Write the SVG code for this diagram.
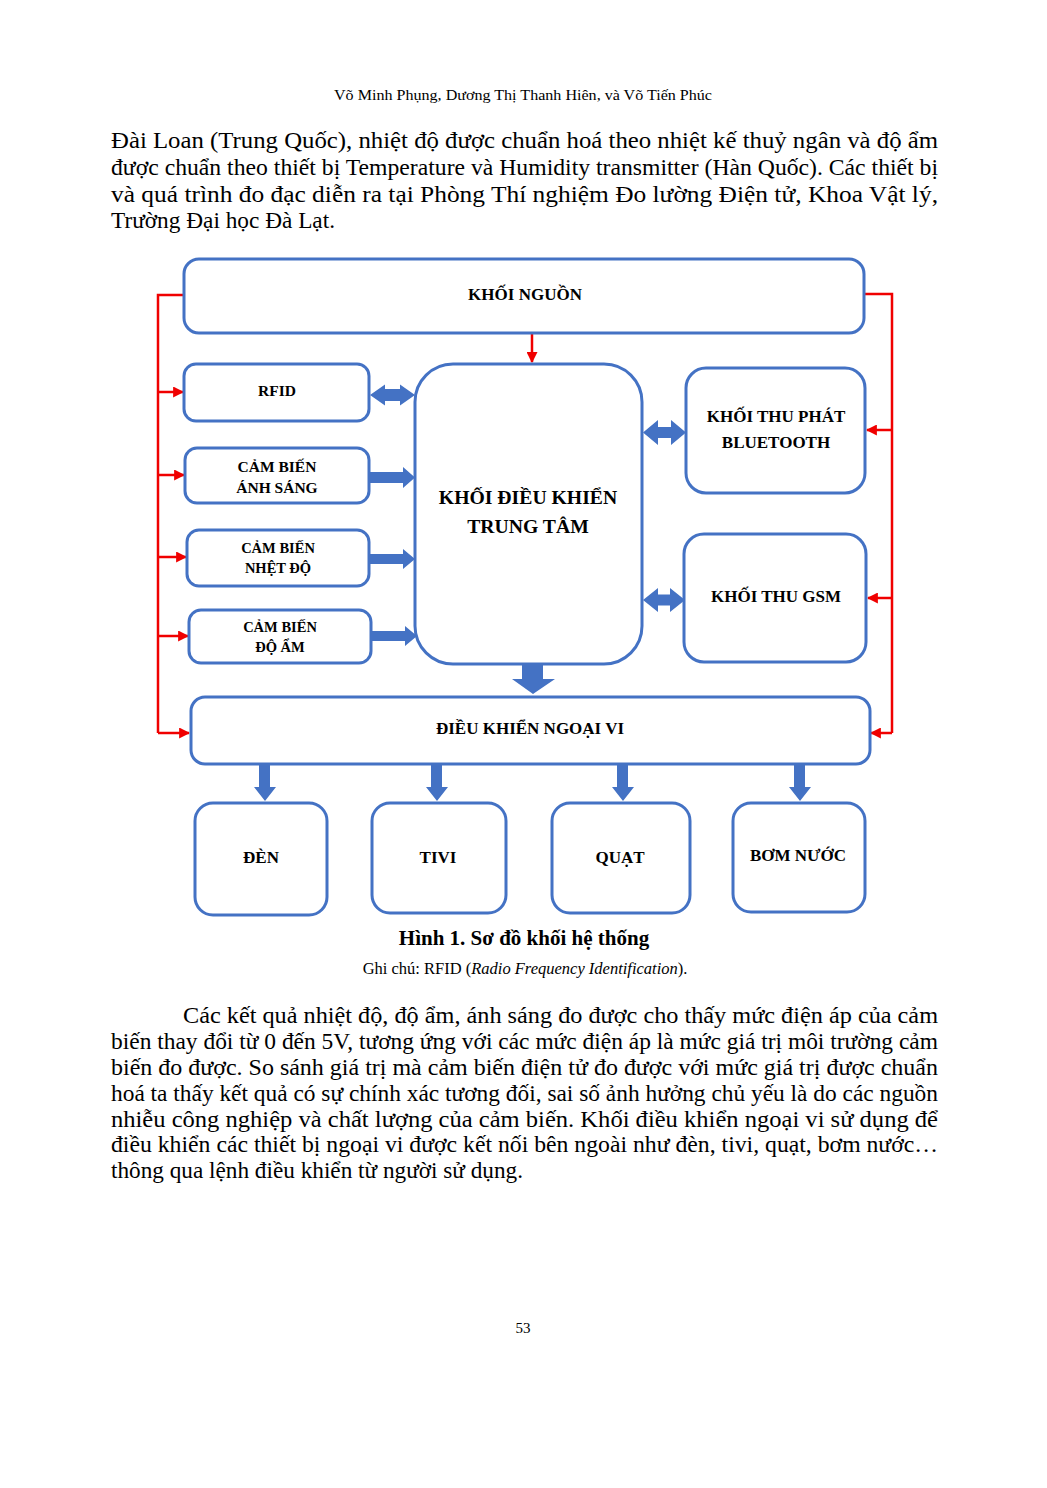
<svg xmlns="http://www.w3.org/2000/svg" width="1047" height="1488" viewBox="0 0 1047 1488">
<defs>
<style>
.box{fill:#fff;stroke:#4472C4;stroke-width:3}
.lbl{font-family:"Liberation Serif","Times New Roman",serif;font-weight:bold;text-anchor:middle;fill:#000}
.body{font-family:"Liberation Serif","Times New Roman",serif;font-size:23px;fill:#000}
.red{fill:none;stroke:#F00000;stroke-width:2.5}
.blk{fill:#4472C4}
</style>
<marker id="ra" viewBox="0 0 10 10" refX="9" refY="5" markerWidth="4.4" markerHeight="4.4" orient="auto" markerUnits="strokeWidth">
<path d="M0,0 L10,5 L0,10 z" fill="#F00000"/>
</marker>
</defs>
<rect width="1047" height="1488" fill="#fff"/>

<text x="523" y="100" text-anchor="middle" font-family="Liberation Serif, serif" font-size="15" textLength="378" lengthAdjust="spacingAndGlyphs">Võ Minh Phụng, Dương Thị Thanh Hiên, và Võ Tiến Phúc</text>

<g class="body">
<text x="111" y="148" textLength="827" lengthAdjust="spacingAndGlyphs">Đài Loan (Trung Quốc), nhiệt độ được chuẩn hoá theo nhiệt kế thuỷ ngân và độ ẩm</text>
<text x="111" y="175" textLength="827" lengthAdjust="spacingAndGlyphs">được chuẩn theo thiết bị Temperature và Humidity transmitter (Hàn Quốc). Các thiết bị</text>
<text x="111" y="202" textLength="827" lengthAdjust="spacingAndGlyphs">và quá trình đo đạc diễn ra tại Phòng Thí nghiệm Đo lường Điện tử, Khoa Vật lý,</text>
<text x="111" y="228" textLength="224" lengthAdjust="spacingAndGlyphs">Trường Đại học Đà Lạt.</text>
</g>

<g id="connectors">
<polyline class="red" points="184,295 158,295 158,733"/>
<line class="red" x1="158" y1="392" x2="183" y2="392" marker-end="url(#ra)"/>
<line class="red" x1="158" y1="475" x2="184" y2="475" marker-end="url(#ra)"/>
<line class="red" x1="158" y1="557" x2="186" y2="557" marker-end="url(#ra)"/>
<line class="red" x1="158" y1="636" x2="188" y2="636" marker-end="url(#ra)"/>
<line class="red" x1="158" y1="733" x2="189" y2="733" marker-end="url(#ra)"/>
<polyline class="red" points="865,294 892,294 892,733"/>
<line class="red" x1="892" y1="430" x2="867" y2="430" marker-end="url(#ra)"/>
<line class="red" x1="892" y1="598" x2="868" y2="598" marker-end="url(#ra)"/>
<line class="red" x1="892" y1="733" x2="871" y2="733" marker-end="url(#ra)"/>
<line class="red" x1="532" y1="334" x2="532" y2="362" marker-end="url(#ra)"/>
<path class="blk" d="M370,395 L385,384.5 L385,389 L400,389 L400,384.5 L415,395 L400,405.5 L400,401 L385,401 L385,405.5 z"/>
<path class="blk" d="M643,432.5 L658,420 L658,427 L671,427 L671,420 L686,432.5 L671,445 L671,438 L658,438 L658,445 z"/>
<path class="blk" d="M643,600 L658,588 L658,594.5 L670,594.5 L670,588 L685,600 L670,612 L670,605.5 L658,605.5 L658,612 z"/>
<path class="blk" d="M370,472 L403,472 L403,467 L415,477.5 L403,488 L403,483 L370,483 z"/>
<path class="blk" d="M370,554 L403,554 L403,549 L415,559 L403,569 L403,564 L370,564 z"/>
<path class="blk" d="M372,631 L405,631 L405,626 L417,636 L405,646 L405,641 L372,641 z"/>
<path class="blk" d="M522,664 L543,664 L543,679 L555,679 L533,694 L512,679 L522,679 z"/>
<path class="blk" d="M259,764 L270,764 L270,787 L276,787 L265,801 L254,787 L259,787 z"/>
<path class="blk" d="M431,764 L442,764 L442,787 L448,787 L437,801 L426,787 L431,787 z"/>
<path class="blk" d="M617,764 L628,764 L628,787 L634,787 L623,801 L612,787 L617,787 z"/>
<path class="blk" d="M794,764 L805,764 L805,787 L811,787 L800,801 L789,787 L794,787 z"/>
</g>

<g id="khoi-nguon"><rect class="box" x="184" y="259" width="680" height="74" rx="15"/><text class="lbl" x="525" y="300" font-size="17">KHỐI NGUỒN</text></g>
<g id="rfid"><rect class="box" x="184" y="364" width="185" height="57" rx="12"/><text class="lbl" x="277" y="396" font-size="15.5">RFID</text></g>
<g id="cb-anh-sang"><rect class="box" x="185" y="448" width="184" height="55" rx="12"/><text class="lbl" x="277" y="472" font-size="15.5">CẢM BIẾN</text><text class="lbl" x="277" y="493" font-size="15.5">ÁNH SÁNG</text></g>
<g id="cb-nhiet-do"><rect class="box" x="187" y="530" width="182" height="56" rx="12"/><text class="lbl" x="278" y="553" font-size="14.5">CẢM BIẾN</text><text class="lbl" x="278" y="573" font-size="14.5">NHỆT ĐỘ</text></g>
<g id="cb-do-am"><rect class="box" x="189" y="610" width="182" height="53" rx="12"/><text class="lbl" x="280" y="632" font-size="14.5">CẢM BIẾN</text><text class="lbl" x="280" y="652" font-size="14.5">ĐỘ ẨM</text></g>
<g id="trung-tam"><rect class="box" x="415" y="364" width="227" height="300" rx="38"/><text class="lbl" x="528" y="504" font-size="19.7">KHỐI ĐIỀU KHIỂN</text><text class="lbl" x="528" y="533" font-size="19.7">TRUNG TÂM</text></g>
<g id="bluetooth"><rect class="box" x="686" y="368" width="179" height="125" rx="20"/><text class="lbl" x="776" y="422" font-size="17">KHỐI THU PHÁT</text><text class="lbl" x="776" y="448" font-size="17">BLUETOOTH</text></g>
<g id="gsm"><rect class="box" x="684" y="534" width="182" height="128" rx="20"/><text class="lbl" x="776" y="602" font-size="17">KHỐI THU GSM</text></g>
<g id="ngoai-vi"><rect class="box" x="191" y="697" width="679" height="67" rx="14"/><text class="lbl" x="530" y="734" font-size="17">ĐIỀU KHIỂN NGOẠI VI</text></g>
<g id="den"><rect class="box" x="195" y="803" width="132" height="112" rx="18"/><text class="lbl" x="261" y="863" font-size="17">ĐÈN</text></g>
<g id="tivi"><rect class="box" x="372" y="803" width="134" height="110" rx="18"/><text class="lbl" x="438" y="863" font-size="17">TIVI</text></g>
<g id="quat"><rect class="box" x="552" y="803" width="138" height="110" rx="18"/><text class="lbl" x="620" y="863" font-size="17">QUẠT</text></g>
<g id="bom-nuoc"><rect class="box" x="733" y="803" width="132" height="109" rx="18"/><text class="lbl" x="798" y="861" font-size="17">BƠM NƯỚC</text></g>

<text x="524" y="945" text-anchor="middle" font-family="Liberation Serif, serif" font-weight="bold" font-size="21">Hình 1. Sơ đồ khối hệ thống</text>
<text x="525" y="974" text-anchor="middle" font-family="Liberation Serif, serif" font-size="16.5">Ghi chú: RFID (<tspan font-style="italic">Radio Frequency Identification</tspan>).</text>

<g class="body">
<text x="183" y="1023" textLength="755" lengthAdjust="spacingAndGlyphs">Các kết quả nhiệt độ, độ ẩm, ánh sáng đo được cho thấy mức điện áp của cảm</text>
<text x="111" y="1049" textLength="827" lengthAdjust="spacingAndGlyphs">biến thay đổi từ 0 đến 5V, tương ứng với các mức điện áp là mức giá trị môi trường cảm</text>
<text x="111" y="1075" textLength="827" lengthAdjust="spacingAndGlyphs">biến đo được. So sánh giá trị mà cảm biến điện tử đo được với mức giá trị được chuẩn</text>
<text x="111" y="1101" textLength="827" lengthAdjust="spacingAndGlyphs">hoá ta thấy kết quả có sự chính xác tương đối, sai số ảnh hưởng chủ yếu là do các nguồn</text>
<text x="111" y="1127" textLength="827" lengthAdjust="spacingAndGlyphs">nhiễu công nghiệp và chất lượng của cảm biến. Khối điều khiển ngoại vi sử dụng để</text>
<text x="111" y="1152" textLength="827" lengthAdjust="spacingAndGlyphs">điều khiển các thiết bị ngoại vi được kết nối bên ngoài như đèn, tivi, quạt, bơm nước…</text>
<text x="111" y="1178" textLength="412" lengthAdjust="spacingAndGlyphs">thông qua lệnh điều khiển từ người sử dụng.</text>
</g>

<text x="523" y="1333" text-anchor="middle" font-family="Liberation Serif, serif" font-size="15">53</text>
</svg>
